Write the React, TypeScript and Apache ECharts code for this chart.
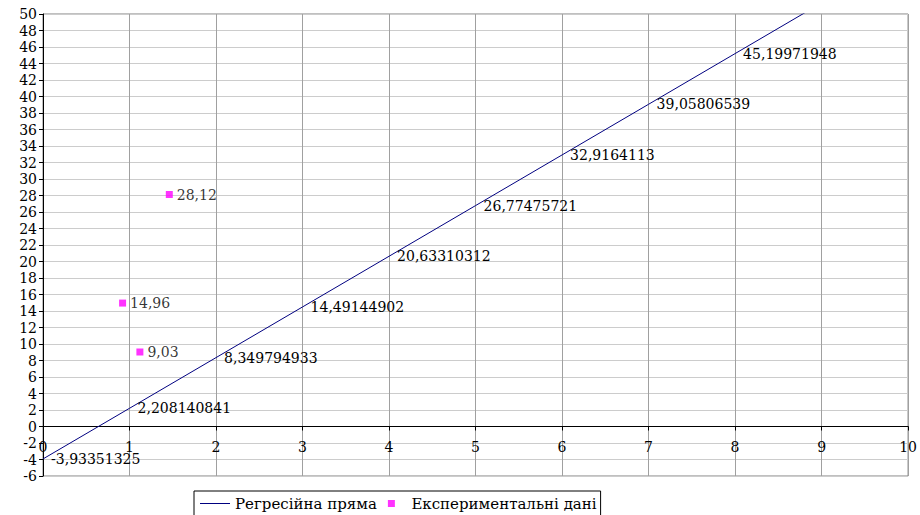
import React, { useEffect, useRef } from "react";
import * as echarts from "echarts";

const lineX = [0, 1, 2, 3, 4, 5, 6, 7, 8, 9];
const lineLabels = [
  "-3,93351325",
  "2,208140841",
  "8,349794933",
  "14,49144902",
  "20,63310312",
  "26,77475721",
  "32,9164113",
  "39,05806539",
  "45,19971948",
  "",
];
const lineY = [
  -3.93351325, 2.208140841, 8.349794933, 14.49144902, 20.63310312, 26.77475721,
  32.9164113, 39.05806539, 45.19971948, 51.34137357,
];
const expX = [0.92, 1.12, 1.46];
const expY = [14.96, 9.03, 28.12];
const seriesNames = ["Регресійна пряма", "Експериментальні дані"];

const FONT = "DejaVu Serif";

export default function App() {
  const ref = useRef<HTMLDivElement>(null);
  useEffect(() => {
    if (!ref.current) return;
    const chart = echarts.init(ref.current, null, { renderer: "svg" });
    chart.setOption({
      animation: false,
      textStyle: { fontFamily: FONT, color: "#000" },
      grid: {
        left: 43,
        right: 9,
        top: 14,
        bottom: 39,
        show: true,
        borderColor: "#808080",
        borderWidth: 1,
      },
      xAxis: {
        type: "value",
        min: 0,
        max: 10,
        interval: 1,
        axisLine: { show: true, onZero: true, lineStyle: { color: "#000", width: 1 } },
        axisTick: { show: true, inside: false, length: 4, lineStyle: { color: "#000" } },
        axisLabel: { color: "#000", fontSize: 14, fontFamily: FONT, margin: -36 },
        splitLine: { show: true, lineStyle: { color: "#a0a0a0", width: 1 } },
      },
      yAxis: {
        type: "value",
        min: -6,
        max: 50,
        interval: 2,
        axisLine: { show: true, onZero: false, lineStyle: { color: "#000", width: 1 } },
        axisTick: { show: true, inside: false, length: 4, lineStyle: { color: "#000" } },
        axisLabel: { color: "#000", fontSize: 14, fontFamily: FONT, margin: 6 },
        splitLine: { show: true, lineStyle: { color: "#cccccc", width: 1 } },
      },
      legend: {
        left: 194,
        top: 491,
        padding: [5, 4, 12, 6],
        borderColor: "#000",
        borderWidth: 1,
        itemWidth: 30,
        itemHeight: 7,
        itemGap: 11,
        textStyle: { fontFamily: FONT, fontSize: 15, color: "#000" },
        data: [
          { name: seriesNames[0], icon: "path://M0,0h30v1h-30z" },
          { name: seriesNames[1], icon: "path://M0,0h10v10h-10z" },
        ],
      },
      series: [
        {
          name: seriesNames[0],
          type: "line",
          data: lineX.map((x, i) => [x, lineY[i]]),
          symbol: "circle",
          symbolSize: 0.1,
          showSymbol: true,
          clip: true,
          lineStyle: { color: "#000080", width: 1 },
          itemStyle: { color: "#000080" },
          label: {
            show: true,
            position: "right",
            distance: 8,
            fontFamily: FONT,
            fontSize: 14,
            color: "#000",
            formatter: (p: any) => lineLabels[p.dataIndex],
          },
        },
        {
          name: seriesNames[1],
          type: "scatter",
          data: expX.map((x, i) => [x, expY[i]]),
          symbol: "rect",
          symbolSize: 7,
          itemStyle: { color: "#ff00ff" },
          label: {
            show: true,
            position: "right",
            distance: 4,
            fontFamily: FONT,
            fontSize: 14,
            color: "#000",
            formatter: (p: any) => String(p.value[1]).replace(".", ","),
          },
        },
      ],
    });
    return () => chart.dispose();
  }, []);
  return (
    <div
      ref={ref}
      style={{ position: "absolute", left: 0, top: 0, width: 920, height: 515 }}
    />
  );
}
